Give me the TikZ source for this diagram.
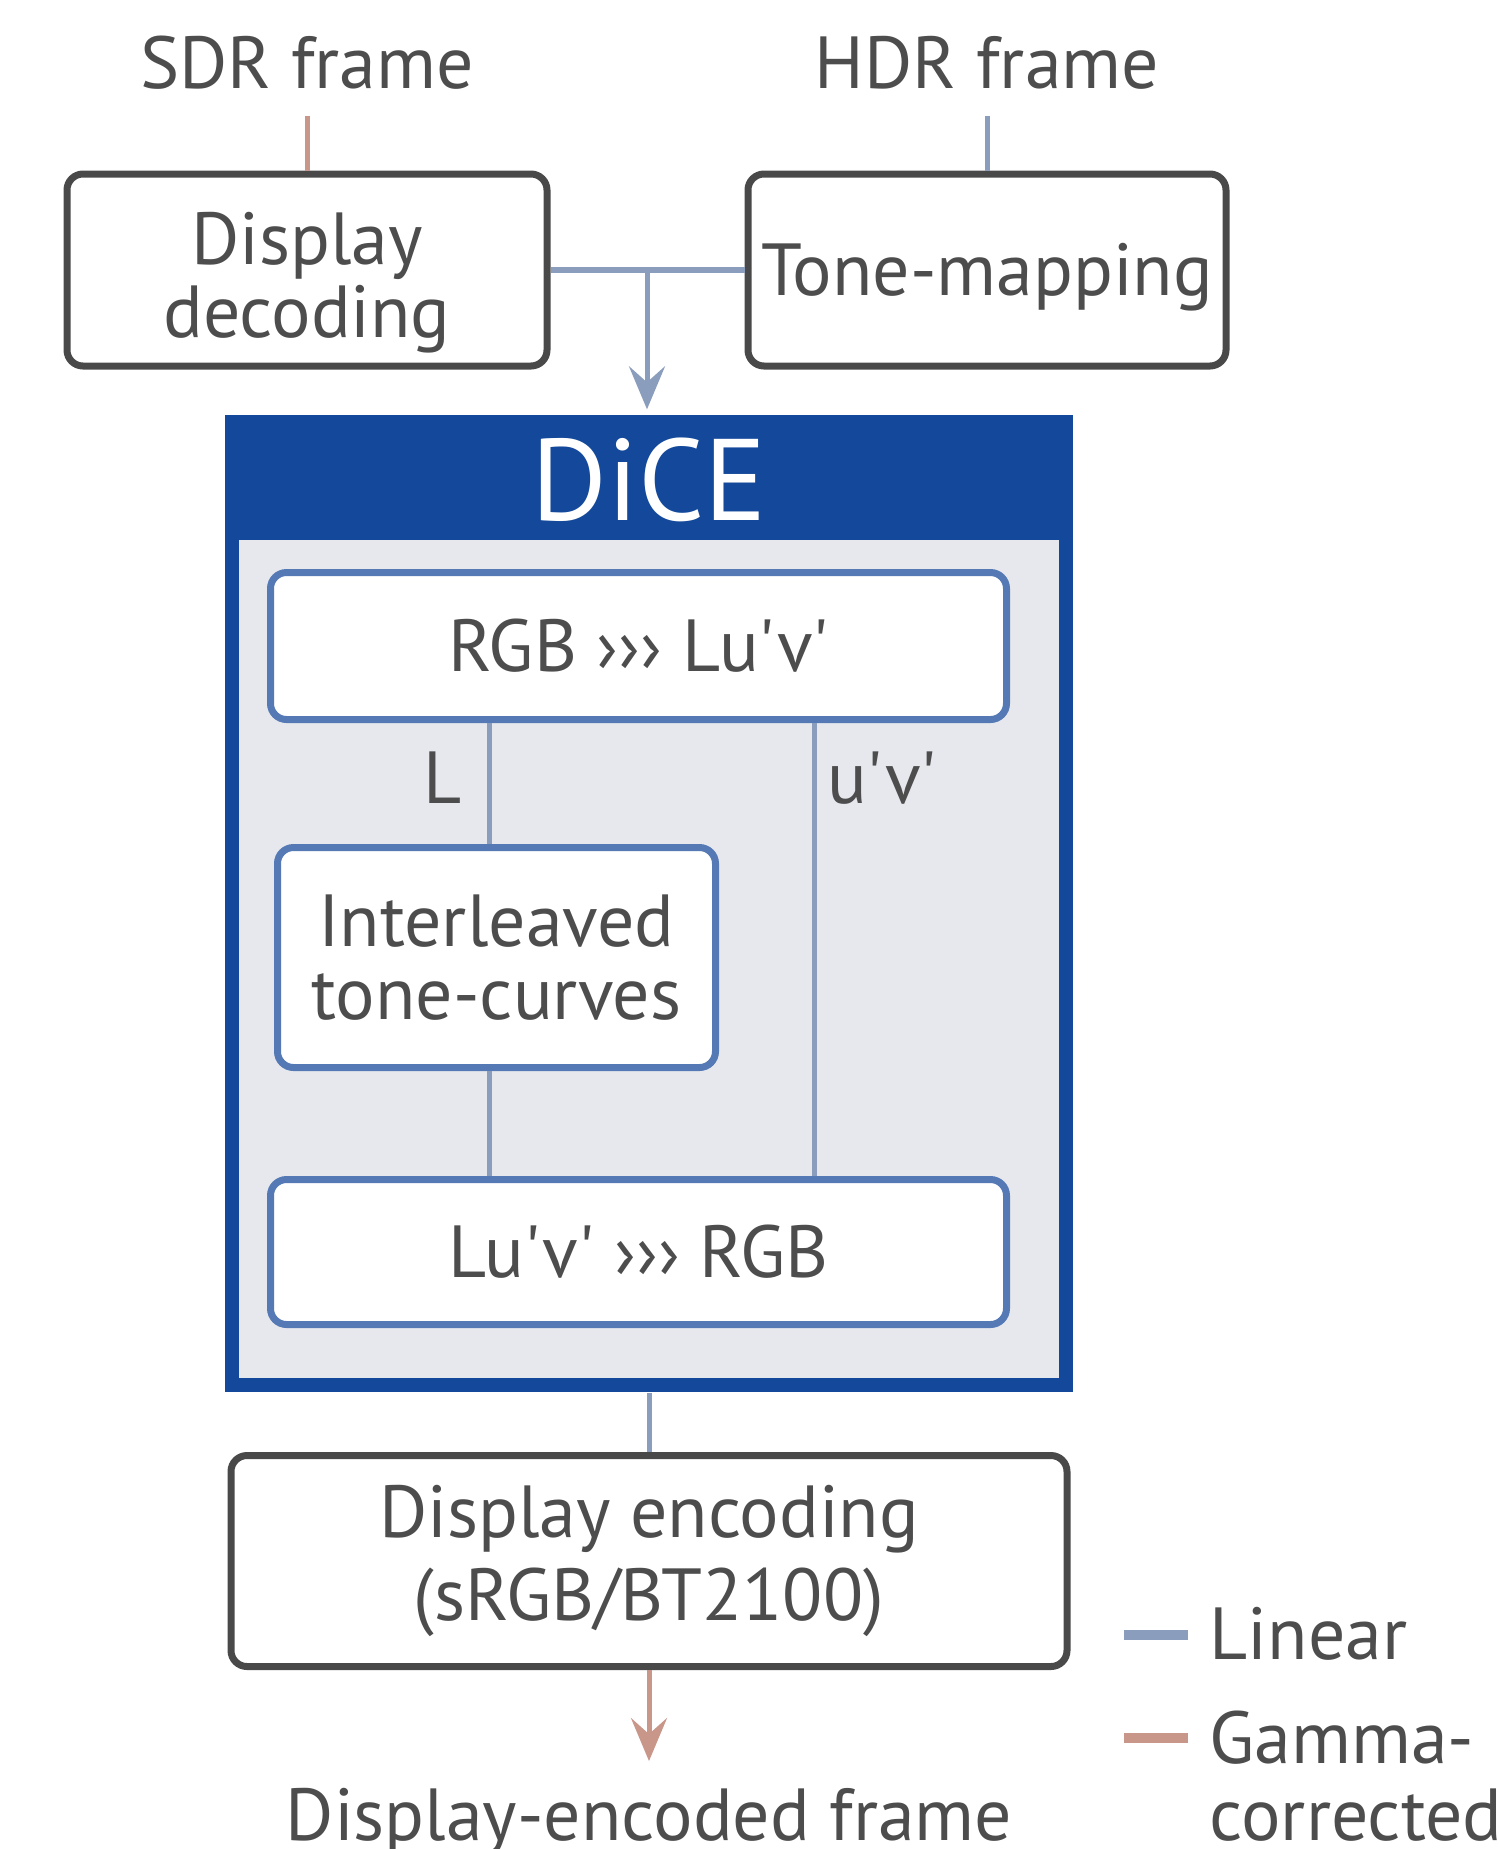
\documentclass[tikz,border=0pt]{standalone}
\usepackage{fontspec}
\setmainfont{PT Sans}[Ligatures = TeXOff]
\usetikzlibrary{arrows.meta}

\definecolor{textgray}{HTML}{4D4D4D}
\definecolor{boxgray}{HTML}{494949}
\definecolor{lineblue}{HTML}{8A9DBD}
\definecolor{gammared}{HTML}{C9978A}
\definecolor{diceblue}{HTML}{13489A}
\definecolor{dicegray}{HTML}{E7E8EE}
\definecolor{nodeblue}{HTML}{5479B5}

\newcommand{\boxfont}{\fontsize{21pt}{20.7pt}\selectfont}

\tikzset{
	procbox/.style = {draw = boxgray, line width = 0.7mm, rounded corners = 1.6mm, align = center, text = textgray, font = \boxfont, inner sep = 0},
	dicebox/.style = {procbox, draw = nodeblue, fill = white},
	ioText/.style = {text = textgray, font = \boxfont, inner xsep = 0, inner ysep = 2.6mm},
	linear/.style = {draw = lineblue, line width = 0.5mm},
	gamma/.style = {draw = gammared, line width = 0.5mm},
	tip/.style = {-{Stealth[length = 4.3mm, width = 3.6mm, inset = 1.6mm]}}
}

\begin{document}
\begin{tikzpicture}[yscale = -1]
	\useasboundingbox (0, 0) rectangle (149.9mm, 184.9mm);

	% Eingaenge
	\node (sdr) [ioText, anchor = base] at (30.7mm, 8.8mm) {SDR frame};
	\node (hdr) [ioText, anchor = base] at (98.7mm, 8.8mm) {HDR frame};

	\node (dec) [procbox, minimum width = 48mm, minimum height = 19.2mm] at (30.7mm, 27.0mm) {\rule{0pt}{7.7mm}Display\\decoding};
	\node (tone) [procbox, minimum width = 47.8mm, minimum height = 19.2mm] at (98.7mm, 27.0mm) {\rule{0pt}{6.7mm}Tone-mapping};

	\draw [gamma] (sdr.south) -- (dec.north);
	\draw [linear] (hdr.south) -- (tone.north);
	\draw [linear, line width = 0.6mm] (dec.east) -- (tone.west);

	% DiCE
	\node (dice) [fill = diceblue, minimum width = 84.8mm, minimum height = 97.7mm, inner sep = 0] at (64.9mm, 90.35mm) {};
	\fill [dicegray] (23.9mm, 54.0mm) rectangle (105.9mm, 137.8mm);
	\node (title) [text = white, font = \fontsize{33pt}{33pt}\selectfont] at (64.9mm, 48.0mm) {DiCE};

	\coordinate (join) at (64.7mm, 27.0mm);
	\draw [linear, tip, shorten > = 0.5mm] (join) -- (join |- dice.north);

	\node (rgb2luv) [dicebox, minimum width = 73.6mm, minimum height = 14.7mm] at (63.85mm, 64.6mm) {RGB ››› Lu'v'};
	\node (inter) [dicebox, minimum width = 43.8mm, minimum height = 22.0mm] at (49.65mm, 95.75mm) {Interleaved\\tone-curves};
	\node (luv2rgb) [dicebox, minimum width = 73.6mm, minimum height = 14.5mm] at (63.85mm, 125.2mm) {Lu'v' ››› RGB};

	\coordinate (lx) at (48.9mm, 0);
	\coordinate (uvx) at (81.4mm, 0);
	\draw [linear] (rgb2luv.south -| lx) -- (inter.north -| lx);
	\draw [linear] (inter.south -| lx) -- (luv2rgb.north -| lx);
	\draw [linear] (rgb2luv.south -| uvx) -- (luv2rgb.north -| uvx);
	\node (lname) [text = textgray, font = \boxfont] at (44.3mm, 77.8mm) {L};
	\node (uvname) [text = textgray, font = \boxfont] at (88.2mm, 77.8mm) {u'v'};

	% Ausgang
	\node (encode) [procbox, minimum width = 83.6mm, minimum height = 21.1mm] at (64.9mm, 156.1mm) {Display encoding\\[2.8pt](sRGB/BT2100)};
	\draw [linear] (dice.south) -- (dice.south |- encode.north);

	\node (out) [ioText, anchor = base] at (64.9mm, 184.0mm) {Display-encoded frame};
	\draw [gamma, tip] (encode.south) -- (encode.south |- out.north);

	% Legende
	\draw [lineblue, line width = 1mm] (112.4mm, 163.5mm) -- (118.8mm, 163.5mm);
	\draw [gammared, line width = 1mm] (112.4mm, 173.8mm) -- (118.8mm, 173.8mm);
	\node (linkey) [ioText, anchor = base west] at (120.9mm, 165.9mm) {Linear};
	\node (gamkey) [ioText, anchor = base west, align = left] at (120.9mm, 184.0mm) {Gamma-\\[1pt]corrected};
\end{tikzpicture}
\end{document}
